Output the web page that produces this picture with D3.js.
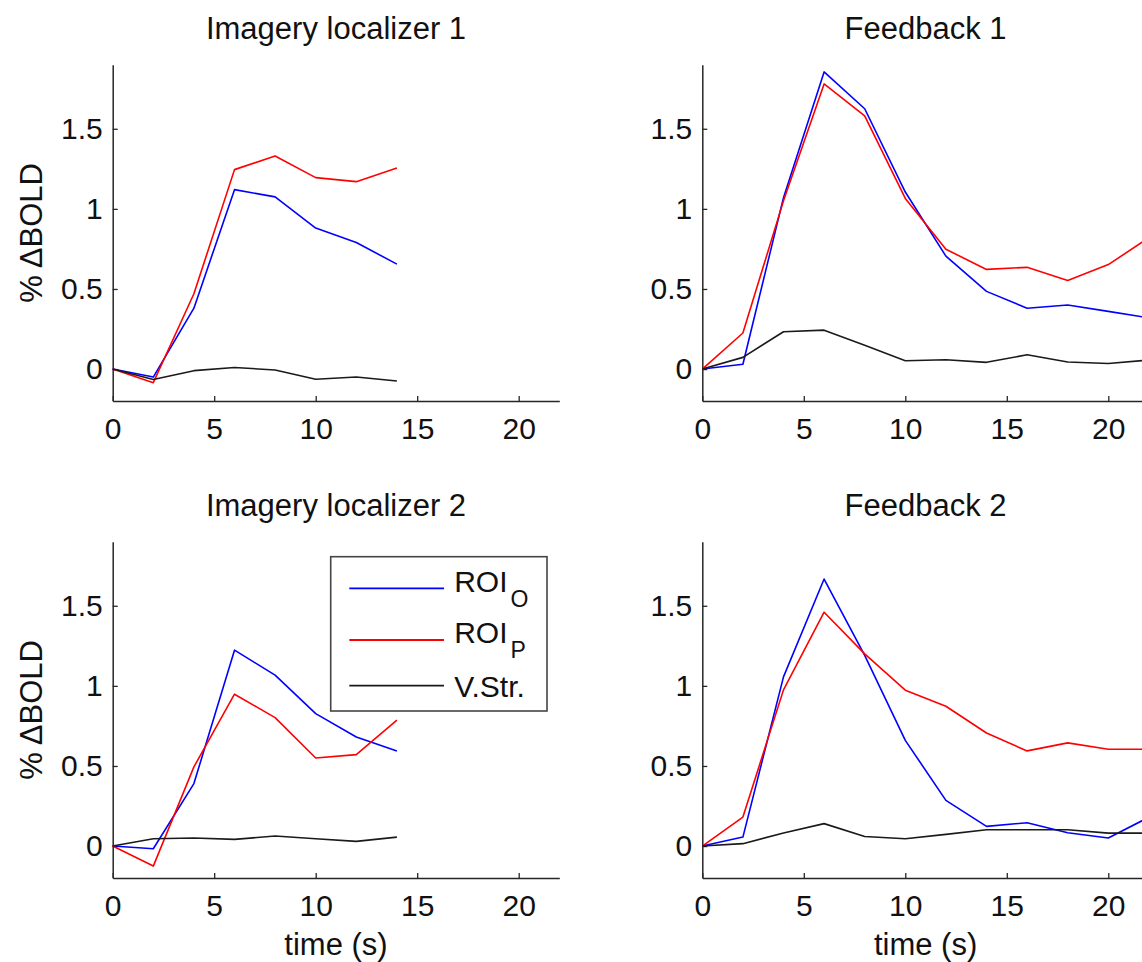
<!DOCTYPE html>
<html>
<head>
<meta charset="utf-8">
<script src="https://cdn.jsdelivr.net/npm/d3@7"></script>
<style>
  body { margin: 0; background: #fff; }
  svg text { font-family: "Liberation Sans", Arial, Helvetica, sans-serif; fill: #111; }
</style>
</head>
<body>
<div id="chart"></div>
<script>
// time points (s)
const tLocalizer = [0, 2, 4, 6, 8, 10, 12, 14];
const tFeedback = [0, 2, 4, 6, 8, 10, 12, 14, 16, 18, 20, 22];

// Imagery localizer 1
const loc1RoiO = [0, -0.05, 0.38, 1.12, 1.075, 0.88, 0.79, 0.655];
const loc1RoiP = [0, -0.085, 0.47, 1.245, 1.33, 1.195, 1.17, 1.255];
const loc1VStr = [0, -0.065, -0.01, 0.01, -0.006, -0.064, -0.05, -0.075];

// Feedback 1
const fb1RoiO = [0, 0.03, 1.07, 1.855, 1.625, 1.105, 0.705, 0.485, 0.38, 0.4, 0.36, 0.32];
const fb1RoiP = [0, 0.225, 1.05, 1.78, 1.58, 1.065, 0.748, 0.622, 0.635, 0.553, 0.652, 0.82];
const fb1VStr = [0, 0.073, 0.233, 0.243, 0.148, 0.052, 0.058, 0.042, 0.089, 0.044, 0.035, 0.056];

// Imagery localizer 2
const loc2RoiO = [0, -0.017, 0.39, 1.223, 1.067, 0.827, 0.681, 0.594];
const loc2RoiP = [0, -0.125, 0.494, 0.948, 0.802, 0.55, 0.571, 0.786];
const loc2VStr = [0, 0.046, 0.05, 0.042, 0.0625, 0.046, 0.029, 0.056];

// Feedback 2
const fb2RoiO = [0, 0.056, 1.056, 1.667, 1.19, 0.66, 0.285, 0.123, 0.146, 0.083, 0.05, 0.18];
const fb2RoiP = [0, 0.181, 0.975, 1.46, 1.2, 0.973, 0.873, 0.706, 0.594, 0.644, 0.604, 0.604];
const fb2VStr = [0, 0.015, 0.081, 0.14, 0.06, 0.046, 0.073, 0.102, 0.102, 0.102, 0.081, 0.081];

const xTicks = [0, 5, 10, 15, 20];
const yTicks = [0, 0.5, 1, 1.5];
const seriesNames = ["ROI", "ROI", "V.Str."];
const seriesSubs = ["O", "P", ""];
const seriesColors = ["#0000ff", "#ff0000", "#1a1a1a"];

const panels = [
    { title: "Imagery localizer 1", t: tLocalizer, series: [loc1RoiO, loc1RoiP, loc1VStr], col: 0, row: 0 },
    { title: "Feedback 1", t: tFeedback, series: [fb1RoiO, fb1RoiP, fb1VStr], col: 1, row: 0 },
    { title: "Imagery localizer 2", t: tLocalizer, series: [loc2RoiO, loc2RoiP, loc2VStr], col: 0, row: 1, legend: true },
    { title: "Feedback 2", t: tFeedback, series: [fb2RoiO, fb2RoiP, fb2VStr], col: 1, row: 1 }
];

const W = 1142, H = 962;
const colLeft = [112.7, 702.3];
const rowTop = [64.7, 541.7];
const pw = 446.6, ph = 336.4;

const svg = d3.select("#chart").append("svg")
    .attr("width", W).attr("height", H);

panels.forEach(p => {
    const g = svg.append("g")
        .attr("transform", `translate(${colLeft[p.col]},${rowTop[p.row]})`);

    const x = d3.scaleLinear().domain([0, 22]).range([0, pw]);
    const y = d3.scaleLinear().domain([-0.2, 1.9]).range([ph, 0]);

    // x axis
    const xa = g.append("g").attr("transform", `translate(0,${ph})`)
        .call(d3.axisBottom(x).tickValues(xTicks).tickFormat(d3.format("d"))
            .tickSizeInner(-5).tickSizeOuter(0).tickPadding(17));
    // y axis
    const ya = g.append("g")
        .call(d3.axisLeft(y).tickValues(yTicks).tickFormat(d => d)
            .tickSizeInner(-5).tickSizeOuter(0).tickPadding(10));

    [xa, ya].forEach(a => {
        a.select(".domain").attr("stroke", "#262626").attr("stroke-width", 1.5);
        a.selectAll(".tick line").attr("stroke", "#262626").attr("stroke-width", 1.3);
        a.selectAll(".tick text").attr("font-size", 30).attr("fill", "#111")
            .style("font-family", '"Liberation Sans", Arial, sans-serif');
    });

    // lines
    const line = d3.line()
        .x((d, i) => x(p.t[i]))
        .y(d => y(d));
    p.series.forEach((s, k) => {
        g.append("path")
            .attr("d", line(s))
            .attr("fill", "none")
            .attr("stroke", seriesColors[k])
            .attr("stroke-width", 1.6)
            .attr("stroke-linejoin", "round");
    });

    // title
    g.append("text")
        .attr("x", pw / 2).attr("y", -26)
        .attr("text-anchor", "middle")
        .attr("font-size", 31)
        .text(p.title);

    // y label (left column only)
    if (p.col === 0) {
        g.append("text")
            .attr("transform", `translate(${42 - colLeft[0]},${ph / 2}) rotate(-90)`)
            .attr("text-anchor", "middle")
            .attr("font-size", 31)
            .text("% \u0394BOLD");
    }

    // x label (bottom row)
    if (p.row === 1) {
        g.append("text")
            .attr("x", pw / 2).attr("y", ph + 77)
            .attr("text-anchor", "middle")
            .attr("font-size", 31)
            .text("time (s)");
    }

    if (p.legend) {
        const lg = g.append("g")
            .attr("transform", `translate(${330.7 - colLeft[0]},${556.7 - rowTop[1]})`);
        lg.append("rect")
            .attr("width", 216.3).attr("height", 154.3)
            .attr("fill", "#fff").attr("stroke", "#444").attr("stroke-width", 1.6);
        const rowsY = [31.6, 83.3, 129];
        seriesNames.forEach((name, k) => {
            lg.append("line")
                .attr("x1", 18.6).attr("x2", 113.3)
                .attr("y1", rowsY[k]).attr("y2", rowsY[k])
                .attr("stroke", seriesColors[k]).attr("stroke-width", 1.8);
            const txt = lg.append("text")
                .attr("x", 123.5)
                .attr("y", k < 2 ? rowsY[k] + 3.5 : rowsY[k] + 11)
                .attr("font-size", 30)
                .text(name);
            if (seriesSubs[k]) {
                txt.append("tspan")
                    .attr("font-size", 23)
                    .attr("dx", 3)
                    .attr("dy", 15)
                    .text(seriesSubs[k]);
            }
        });
    }
});
</script>
</body>
</html>
